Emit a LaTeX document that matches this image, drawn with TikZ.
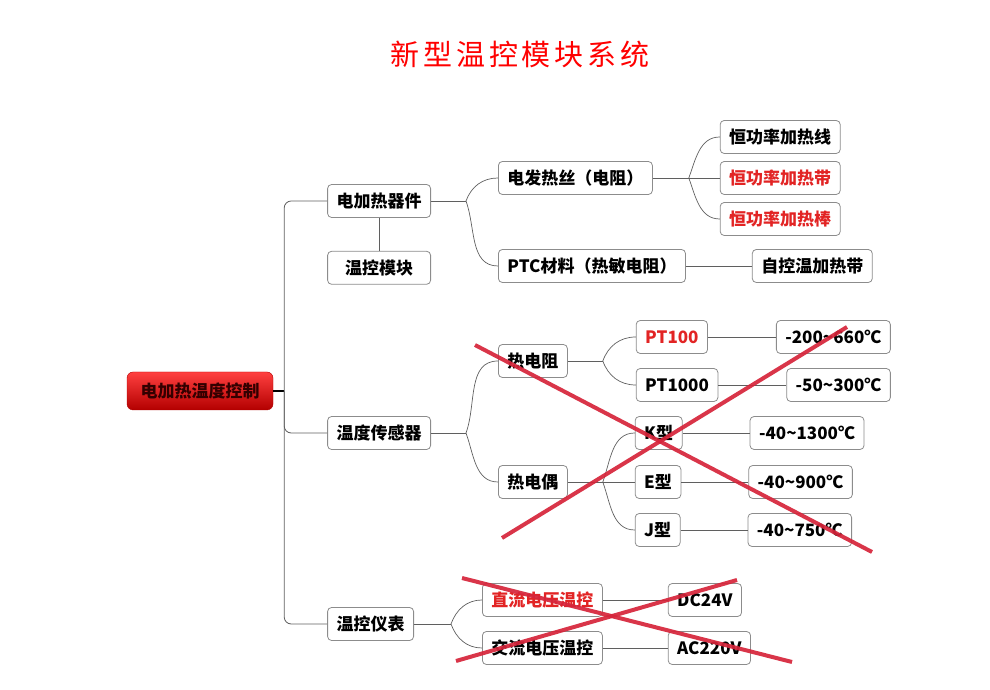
\documentclass[tikz,border=0pt]{standalone}
\usepackage{fontspec}
\usepackage{tikz}
\usetikzlibrary{positioning,calc}
\setmainfont{Noto Sans CJK SC}
\newfontfamily\titlefont[LetterSpace=13]{Noto Sans CJK SC}
\definecolor{crossred}{RGB}{214,36,58}
\definecolor{mapred}{RGB}{226,36,36}
\definecolor{boxgray}{RGB}{140,140,140}
\definecolor{linegray}{RGB}{95,95,95}

\begin{document}
\begin{tikzpicture}[
    x=1pt, y=1pt,
    node distance=67pt,
    box/.style={rectangle, draw=boxgray, fill=white, rounded corners=4pt, line width=0.8pt, minimum height=33pt, inner xsep=9pt, font=\fontsize{17}{17}\selectfont\bfseries},
    rootbox/.style={rectangle, draw=red!70!black, top color=red!75!white, middle color=red, bottom color=red!70!black, rounded corners=6pt, minimum width=146pt, minimum height=38pt, text=black!80!red, font=\fontsize{17}{17}\selectfont\bfseries},
    hot/.style={text=mapred},
    line/.style={draw=linegray, line width=0.7pt},
    trunk/.style={draw=linegray, line width=0.8pt, rounded corners=7pt},
    cross/.style={draw=crossred, line width=4pt, opacity=0.92}
]
\useasboundingbox (0,0) rectangle (990,690);

\node [font=\titlefont\fontsize{29}{29}\selectfont, text=red] (title) at (520,636) {新型温控模块系统};

\node [rootbox] (root) at (200,299) {电加热温度控制};
\node [box, right=54pt of root, yshift=190pt] (heat) {电加热器件};
\node [box, minimum width=103pt, below=33pt of heat] (module) {温控模块};
\node [box, right=54pt of root, yshift=-42pt] (sensor) {温度传感器};
\node [box, right=54pt of root, yshift=-233pt] (meter) {温控仪表};

% heating elements
\node [box, right=of heat, yshift=23pt] (wire) {电发热丝（电阻）};
\node [box, right=of heat, yshift=-65pt] (ptc) {PTC材料（热敏电阻）};
\node [box, right=of wire, yshift=41pt] (wireA) {恒功率加热线};
\node [box, hot, right=of wire] (wireB) {恒功率加热带};
\node [box, hot, right=of wire, yshift=-41pt] (wireC) {恒功率加热棒};
\node [box, right=66pt of ptc] (selfreg) {自控温加热带};

% sensors
\node [box, right=of sensor, yshift=72pt] (rtd) {热电阻};
\node [box, right=of sensor, yshift=-49pt] (tcouple) {热电偶};
\node [box, hot, right=68pt of rtd, yshift=24pt] (pthund) {PT100};
\node [box, right=68pt of rtd, yshift=-24pt] (ptthou) {PT1000};
\node [box, right=68pt of pthund] (rngpthund) {-200\textasciitilde{}660℃};
\node [box, right=68pt of ptthou] (rngptthou) {-50\textasciitilde{}300℃};
\node [box, right=of tcouple, yshift=49pt] (ktype) {K型};
\node [box, right=of tcouple] (etype) {E型};
\node [box, right=of tcouple, yshift=-48pt] (jtype) {J型};
\node [box, right=of ktype] (rngk) {-40\textasciitilde{}1300℃};
\node [box, right=of etype] (rnge) {-40\textasciitilde{}900℃};
\node [box, right=of jtype] (rngj) {-40\textasciitilde{}750℃};

% instruments
\node [box, hot, right=68pt of meter, yshift=24pt] (dcctl) {直流电压温控};
\node [box, right=68pt of meter, yshift=-24pt] (acctl) {交流电压温控};
\node [box, right=65pt of dcctl] (dcvolt) {DC24V};
\node [box, right=65pt of acctl] (acvolt) {AC220V};

% trunk
\path [draw=black, line width=2pt] (root.east) -- ++(11,0) coordinate (rootfork);
\path [trunk] (rootfork) |- (heat.west);
\path [trunk] (rootfork) |- (sensor.west);
\path [trunk] (rootfork) |- (meter.west);
\path [line] (heat.south) -- (module.north);

% branches
\path [line] (heat.east) -- ++(35,0) coordinate (heatfork);
\path [line] (heatfork) to[out=70, in=180] (wire.west);
\path [line] (heatfork) to[out=-70, in=180] (ptc.west);
\path [line] (wire.east) -- ++(36,0) coordinate (wirefork);
\path [line] (wirefork) to[out=70, in=180] (wireA.west);
\path [line] (wirefork) -- (wireB.west);
\path [line] (wirefork) to[out=-70, in=180] (wireC.west);
\path [line] (ptc) -- (selfreg);

\path [line] (sensor.east) -- ++(35,0) coordinate (sensorfork);
\path [line] (sensorfork) to[out=70, in=180] (rtd.west);
\path [line] (sensorfork) to[out=-70, in=180] (tcouple.west);
\path [line] (rtd.east) -- ++(35,0) coordinate (rtdfork);
\path [line] (rtdfork) to[out=70, in=180] (pthund.west);
\path [line] (rtdfork) to[out=-70, in=180] (ptthou.west);
\path [line] (pthund) -- (rngpthund);
\path [line] (ptthou) -- (rngptthou);
\path [line] (tcouple.east) -- ++(35,0) coordinate (tcfork);
\path [line] (tcfork) to[out=70, in=180] (ktype.west);
\path [line] (tcfork) -- (etype.west);
\path [line] (tcfork) to[out=-70, in=180] (jtype.west);
\path [line] (ktype) -- (rngk);
\path [line] (etype) -- (rnge);
\path [line] (jtype) -- (rngj);

\path [line] (meter.east) -- ++(37,0) coordinate (meterfork);
\path [line] (meterfork) to[out=70, in=180] (dcctl.west);
\path [line] (meterfork) to[out=-70, in=180] (acctl.west);
\path [line] (dcctl) -- (dcvolt);
\path [line] (acctl) -- (acvolt);

% crossed out
\coordinate (sensorxa) at (475,345);
\coordinate (sensorxb) at (872,138);
\coordinate (sensorxc) at (502,152);
\coordinate (sensorxd) at (847,363);
\coordinate (meterxa) at (462,112);
\coordinate (meterxb) at (792,28);
\coordinate (meterxc) at (456,29);
\coordinate (meterxd) at (737,110);
\path [cross] (sensorxa) -- (sensorxb);
\path [cross] (sensorxc) -- (sensorxd);
\path [cross] (meterxa) -- (meterxb);
\path [cross] (meterxc) -- (meterxd);

\end{tikzpicture}
\end{document}
